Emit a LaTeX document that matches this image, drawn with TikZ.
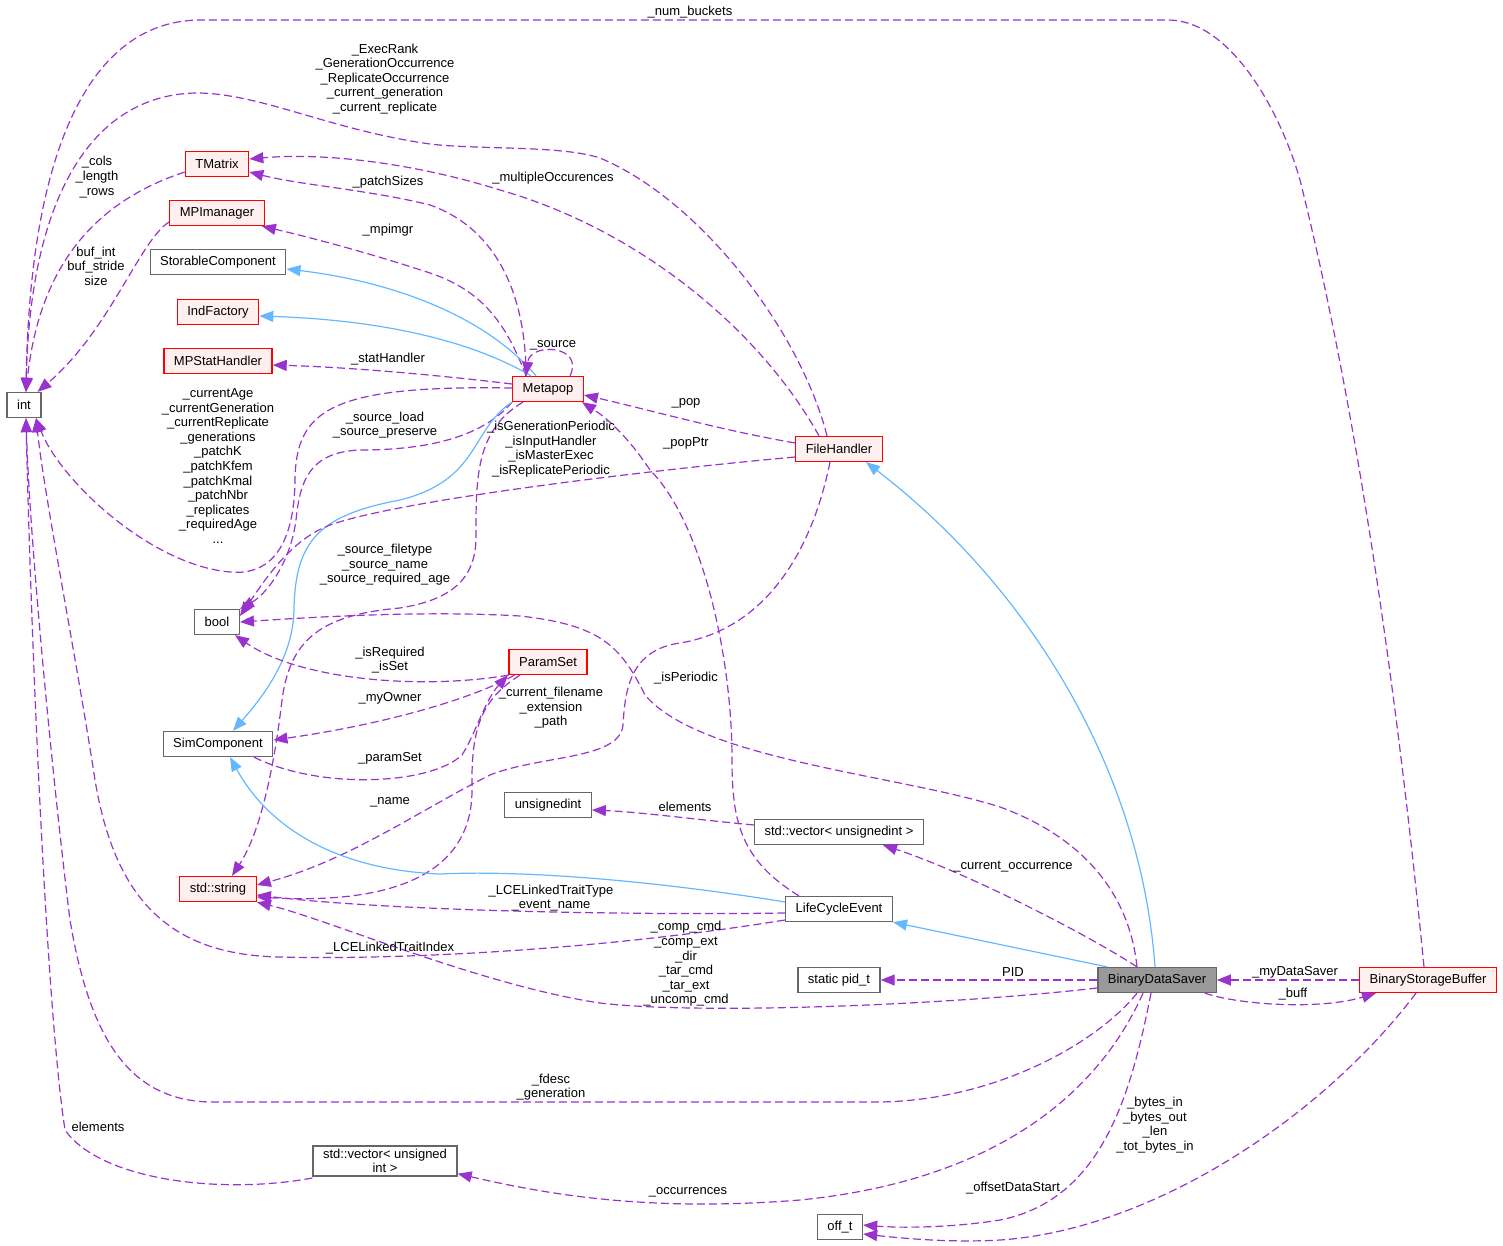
\documentclass[tikz,border=0pt]{standalone}
\usepackage{fontspec}
\setmainfont{Liberation Sans}
\usetikzlibrary{arrows.meta}
\definecolor{edgepurple}{HTML}{9A32CD}
\definecolor{inhblue}{HTML}{63B8FF}
\definecolor{redfill}{HTML}{FFF0F0}
\definecolor{boxgray}{HTML}{666666}
\definecolor{curfill}{HTML}{999999}

\begin{document}
\begin{tikzpicture}[x=1pt, y=-1pt,
      every node/.style={font=\fontsize{13}{14.6}\selectfont},
      cls/.style={draw=boxgray, fill=white, line width=1.3pt, inner xsep=10pt, inner ysep=2pt, minimum height=25pt},
      redcls/.style={cls, draw=red, fill=redfill},
      curcls/.style={cls, fill=curfill},
      uses/.style={draw=edgepurple, line width=1.2pt, dash pattern=on 8pt off 4pt, -{Triangle[length=14pt,width=11pt]}},
      derives/.style={draw=inhblue, line width=1.2pt, -{Triangle[length=14pt,width=11pt]}},
      lbl/.style={align=center, inner sep=0pt}]
      \useasboundingbox (0,0) rectangle (1503,1246);

      % classes
      \node[cls] (int) at (24,405) {int};
      \node[redcls] (tmatrix) at (217,164) {TMatrix};
      \node[redcls] (mpimanager) at (217,213) {MPImanager};
      \node[cls] (storable) at (218,262) {StorableComponent};
      \node[redcls] (indfactory) at (218,312) {IndFactory};
      \node[redcls] (mpstat) at (218,361) {MPStatHandler};
      \node[redcls] (metapop) at (548,389) {Metapop};
      \node[redcls] (filehandler) at (839,449) {FileHandler};
      \node[cls] (bool) at (217,622) {bool};
      \node[redcls] (paramset) at (548,662) {ParamSet};
      \node[cls] (simcomp) at (218,744) {SimComponent};
      \node[cls] (uint) at (548,805) {unsignedint};
      \node[cls] (vecuint) at (839,832) {std::vector< unsignedint >};
      \node[redcls] (string) at (218,889) {std::string};
      \node[cls] (lce) at (839,909) {LifeCycleEvent};
      \node[cls] (pid) at (839,980) {static pid\_t};
      \node[curcls] (bds) at (1157,980) {BinaryDataSaver};
      \node[redcls] (bsb) at (1428,980) {BinaryStorageBuffer};
      \node[cls, align=center, inner ysep=3pt] (vecunsigned) at (385,1161) {std::vector< unsigned\\int >};
      \node[cls] (offt) at (840,1227) {off\_t};

      % members of type int
      \draw[uses] ([xshift=-4]bsb.north) .. controls (1390,620) and (1345,360) .. (1300,180)
            .. controls (1280,110) and (1230,20) .. (1168,20) -- (201,20)
            .. controls (90,20) and (30,150) .. ([xshift=2]int.north);
      \draw[uses] ([xshift=-12]filehandler.north) .. controls (800,330) and (700,200) .. (600,158)
            .. controls (560,145) and (480,150) .. (430,144)
            .. controls (330,130) and (260,93) .. (196,93)
            .. controls (90,95) and (30,200) .. ([xshift=2]int.north);
      \draw[uses] ([yshift=-8]tmatrix.west) .. controls (100,200) and (40,260) .. ([xshift=2]int.north);
      \draw[uses] ([yshift=-9]mpimanager.west) .. controls (140,240) and (110,330) .. ([xshift=-4]int.north east);
      \draw[uses] ([yshift=1]metapop.west) .. controls (330,385) and (296,410) .. (295,480)
            .. controls (294,560) and (260,575) .. (230,572)
            .. controls (150,565) and (60,480) .. ([xshift=12]int.south);
      \draw[uses] ([yshift=-11]lce.west) .. controls (600,950) and (400,960) .. (280,957)
            .. controls (170,955) and (115,900) .. (95,780)
            .. controls (75,650) and (45,500) .. ([xshift=12]int.south);
      \draw[uses] ([xshift=-20]bds.south) .. controls (1100,1040) and (1000,1100) .. (880,1102)
            -- (210,1102) .. controls (130,1100) and (90,1040) .. (70,920)
            .. controls (55,800) and (30,550) .. ([xshift=2]int.south);
      \draw[uses] ([yshift=-17]vecunsigned.west) .. controls (220,1195) and (100,1180) .. (65,1130)
            .. controls (45,1000) and (30,600) .. ([xshift=2]int.south);

      % Metapop
      \draw[uses] ([xshift=-22]metapop.north) .. controls (526,300) and (500,230) .. (430,205)
            .. controls (370,190) and (300,185) .. ([yshift=-8]tmatrix.east);
      \draw[uses] ([xshift=-20]filehandler.north) .. controls (760,330) and (640,230) .. (500,190)
            .. controls (420,165) and (330,152) .. ([yshift=5]tmatrix.east);
      \draw[uses] ([xshift=-22]metapop.north) .. controls (505,320) and (480,290) .. (430,273)
            .. controls (360,250) and (300,235) .. ([xshift=-3]mpimanager.south east);
      \draw[derives] ([xshift=-12]metapop.north) .. controls (480,310) and (380,280) .. ([yshift=-7]storable.east);
      \draw[derives] ([xshift=-17]metapop.north) .. controls (470,340) and (380,320) .. ([yshift=-4]indfactory.east);
      \draw[uses] ([yshift=5]metapop.west) .. controls (420,373) and (340,367) .. ([yshift=-4]mpstat.east);
      \draw[uses] ([xshift=22]metapop.north) .. controls (585,345) and (530,342) .. ([xshift=-22]metapop.north);
      \draw[uses] (metapop.south west) .. controls (480,440) and (420,450) .. (360,450)
            .. controls (310,452) and (300,480) .. (296,520)
            .. controls (290,565) and (265,595) .. (bool.north east);
      \draw[derives] ([xshift=-36]metapop.south) .. controls (470,430) and (480,480) .. (400,500)
            .. controls (320,515) and (295,540) .. (294,610)
            .. controls (293,660) and (260,700) .. ([xshift=15]simcomp.north);
      \draw[uses] ([xshift=-25]metapop.south) .. controls (475,430) and (476,480) .. (476,537)
            .. controls (476,580) and (450,600) .. (400,608)
            .. controls (320,615) and (290,640) .. (282,700)
            .. controls (275,760) and (262,830) .. ([xshift=14]string.north);

      % FileHandler
      \draw[uses] ([yshift=6]filehandler.west) .. controls (720,430) and (650,410) .. ([yshift=-6]metapop.east);
      \draw[uses] ([yshift=-8]filehandler.west) .. controls (650,470) and (400,500) .. (330,525)
            .. controls (290,540) and (265,580) .. ([yshift=6]bool.east);
      \draw[uses] ([xshift=-9]filehandler.south) .. controls (810,560) and (760,630) .. (680,643)
            .. controls (630,650) and (625,690) .. (623,725)
            .. controls (620,760) and (540,755) .. (490,775)
            .. controls (420,810) and (350,860) .. ([yshift=4]string.east);

      % ParamSet and SimComponent
      \draw[uses] (paramset.south west) .. controls (420,690) and (300,680) .. ([xshift=-5]bool.south east);
      \draw[uses] ([xshift=6]paramset.south west) .. controls (470,700) and (380,725) .. ([yshift=4]simcomp.east);
      \draw[uses] ([xshift=36]simcomp.south) .. controls (320,790) and (430,785) .. (462,755)
            .. controls (475,735) and (485,700) .. ([xshift=-40]paramset.south);
      \draw[uses] ([xshift=-28]paramset.south) .. controls (480,700) and (471,730) .. (472,790)
            .. controls (472,870) and (400,905) .. ([yshift=-8]string.east);

      % LifeCycleEvent
      \draw[derives] ([yshift=7]lce.west) .. controls (650,880) and (520,870) .. (440,874)
            .. controls (340,870) and (270,830) .. ([xshift=12]simcomp.south);
      \draw[uses] ([xshift=-40]lce.north) .. controls (740,860) and (732,820) .. (732,760)
            .. controls (732,650) and (700,520) .. (650,470)
            .. controls (630,440) and (610,420) .. ([xshift=-2]metapop.south east);
      \draw[uses] ([yshift=-4]lce.west) .. controls (650,915) and (400,912) .. ([yshift=-6]string.east);
      \draw[uses] ([yshift=7]vecuint.west) .. controls (700,820) and (640,812) .. ([yshift=-5]uint.east);

      % BinaryDataSaver
      \draw[derives] ([xshift=-2]bds.north) .. controls (1140,760) and (1020,580) .. ([xshift=27]filehandler.south);
      \draw[uses] ([xshift=-20]bds.north) .. controls (1130,900) and (1090,840) .. (1000,807)
            .. controls (900,775) and (700,760) .. (645,695)
            .. controls (620,645) and (600,625) .. (520,616)
            .. controls (420,610) and (300,618) .. (bool.east);
      \draw[uses] ([xshift=-20]bds.north) .. controls (1080,930) and (960,870) .. ([xshift=44]vecuint.south);
      \draw[derives] ([xshift=-50]bds.north) -- (lce.south east);
      \draw[uses] (bds.west) -- (pid.east);
      \draw[uses] ([yshift=-8]bds.west) .. controls (950,1005) and (700,1015) .. (600,1003)
            .. controls (480,985) and (330,920) .. (string.south east);
      \draw[uses] ([xshift=-14]bds.south) .. controls (1100,1090) and (1000,1180) .. (800,1200)
            .. controls (650,1212) and (550,1195) .. ([yshift=3]vecunsigned.south east);
      \draw[uses] ([xshift=-6]bds.south) .. controls (1130,1100) and (1100,1200) .. (1000,1220)
            .. controls (950,1228) and (900,1228) .. ([yshift=2]offt.east);
      \draw[uses] ([xshift=-12]bds.south east) .. controls (1240,1005) and (1320,1010) .. ([xshift=17]bsb.south west);

      % BinaryStorageBuffer
      \draw[uses] (bsb.west) -- (bds.east);
      \draw[uses] ([xshift=-12]bsb.south) .. controls (1320,1120) and (1150,1230) .. (1000,1240)
            .. controls (950,1243) and (900,1238) .. ([yshift=-7]offt.east);

      % labels
      \node[lbl] (l-numbuckets) at (690,12) {\_num\_buckets};
      \node[lbl] (l-execrank) at (385,79) {\_ExecRank\\\_GenerationOccurrence\\\_ReplicateOccurrence\\\_current\_generation\\\_current\_replicate};
      \node[lbl] (l-cols) at (97,177) {\_cols\\\_length\\\_rows};
      \node[lbl] (l-bufint) at (96,266) {buf\_int\\buf\_stride\\size};
      \node[lbl] (l-patchsizes) at (388,182) {\_patchSizes};
      \node[lbl] (l-multiple) at (553,178) {\_multipleOccurences};
      \node[lbl] (l-mpimgr) at (388,230) {\_mpimgr};
      \node[lbl] (l-stathandler) at (388,359) {\_statHandler};
      \node[lbl] (l-source) at (553,345) {\_source};
      \node[lbl] (l-currentage) at (218,466) {\_currentAge\\\_currentGeneration\\\_currentReplicate\\\_generations\\\_patchK\\\_patchKfem\\\_patchKmal\\\_patchNbr\\\_replicates\\\_requiredAge\\...};
      \node[lbl] (l-sourceload) at (385,425) {\_source\_load\\\_source\_preserve};
      \node[lbl] (l-pop) at (686,403) {\_pop};
      \node[lbl] (l-isgen) at (551,449) {\_isGenerationPeriodic\\\_isInputHandler\\\_isMasterExec\\\_isReplicatePeriodic};
      \node[lbl] (l-popptr) at (686,443) {\_popPtr};
      \node[lbl] (l-sourcefile) at (385,565) {\_source\_filetype\\\_source\_name\\\_source\_required\_age};
      \node[lbl] (l-isrequired) at (390,660) {\_isRequired\\\_isSet};
      \node[lbl] (l-isperiodic) at (686,678) {\_isPeriodic};
      \node[lbl] (l-filename) at (551,708) {\_current\_filename\\\_extension\\\_path};
      \node[lbl] (l-myowner) at (390,698) {\_myOwner};
      \node[lbl] (l-paramset) at (390,758) {\_paramSet};
      \node[lbl] (l-name) at (390,802) {\_name};
      \node[lbl] (l-elements) at (685,807) {elements};
      \node[lbl] (l-curocc) at (1013,867) {\_current\_occurrence};
      \node[lbl] (l-traittype) at (551,898) {\_LCELinkedTraitType\\\_event\_name};
      \node[lbl] (l-compcmd) at (686,964) {\_comp\_cmd\\\_comp\_ext\\\_dir\\\_tar\_cmd\\\_tar\_ext\\\_uncomp\_cmd};
      \node[lbl] (l-traitindex) at (390,948) {\_LCELinkedTraitIndex};
      \node[lbl] (l-pid) at (1013,972) {PID};
      \node[lbl] (l-mydatasaver) at (1295,972) {\_myDataSaver};
      \node[lbl] (l-buff) at (1293,994) {\_buff};
      \node[lbl] (l-fdesc) at (551,1087) {\_fdesc\\\_generation};
      \node[lbl] (l-vecelements) at (98,1127) {elements};
      \node[lbl] (l-bytesin) at (1155,1125) {\_bytes\_in\\\_bytes\_out\\\_len\\\_tot\_bytes\_in};
      \node[lbl] (l-occurrences) at (688,1192) {\_occurrences};
      \node[lbl] (l-offset) at (1013,1188) {\_offsetDataStart};
\end{tikzpicture}
\end{document}
